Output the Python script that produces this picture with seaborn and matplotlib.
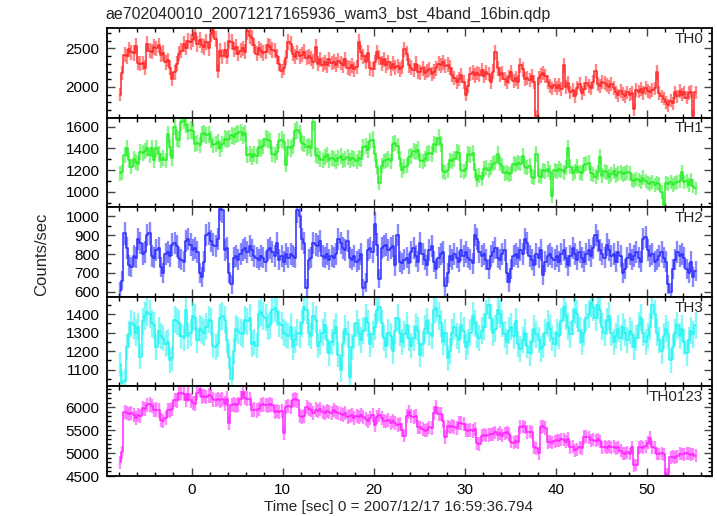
import numpy as np
import pandas as pd
import matplotlib
matplotlib.use("Agg")
import matplotlib.pyplot as plt
from matplotlib.ticker import MultipleLocator
import seaborn as sns

sns.set_theme(style="ticks")
plt.rcParams['font.family'] = ['Liberation Sans', 'DejaVu Sans']

# light curve: 0.25 s bins, first bin centre at -7.875 s
t_start = -7.875
bin_width = 0.25

th0 = [
    1900, 2180, 2420, 2400, 2490, 2450, 2440, 2530, 2310, 2300, 2310, 2250, 2560, 2470, 2460, 2520,
    2500, 2540, 2420, 2440, 2320, 2350, 2250, 2100, 2190, 2300, 2430, 2470, 2560, 2510, 2600, 2580,
    2620, 2700, 2560, 2610, 2540, 2520, 2580, 2500, 2690, 2740, 2620, 2210, 2470, 2400, 2480, 2390,
    2600, 2580, 2490, 2520, 2430, 2470, 2500, 2460, 2720, 2660, 2640, 2540, 2430, 2500, 2470, 2440,
    2460, 2540, 2520, 2480, 2470, 2400, 2300, 2210, 2250, 2380, 2580, 2560, 2430, 2390, 2450, 2400,
    2420, 2460, 2380, 2400, 2370, 2330, 2520, 2300, 2360, 2290, 2320, 2280, 2360, 2310, 2330, 2290,
    2340, 2310, 2280, 2360, 2250, 2240, 2280, 2230, 2260, 2590, 2450, 2400, 2330, 2440, 2240, 2230,
    2320, 2450, 2380, 2300, 2360, 2280, 2320, 2240, 2300, 2250, 2270, 2230, 2260, 2490, 2430, 2280,
    2250, 2220, 2300, 2200, 2190, 2240, 2180, 2210, 2230, 2170, 2200, 2240, 2300, 2280, 2320, 2270,
    2290, 2250, 2160, 2120, 2060, 2100, 2150, 2060, 1900, 2010, 2170, 2190, 2150, 2180, 2160, 2220,
    2140, 2190, 2170, 2060, 2200, 2450, 2240, 2160, 2180, 2100, 2060, 2130, 2190, 2080, 2110, 2070,
    2280, 2230, 2100, 2120, 2090, 2140, 2060, 1620, 2120, 2150, 2180, 2140, 2070, 2010, 1980, 2020,
    1990, 2020, 1970, 2280, 2000, 2050, 1930, 1960, 1880, 1990, 2040, 1920, 1970, 2050, 2010, 1980,
    2060, 2210, 2040, 2010, 2070, 2050, 2020, 2000, 2040, 1990, 1930, 1890, 1950, 1910, 1880, 1930,
    1900, 1920, 1710, 1960, 1940, 1970, 1920, 1990, 1950, 1930, 1960, 1980, 2190, 1920, 1880, 1850,
    1800, 1760, 1820, 1790, 1930, 1880, 1950, 1900, 1930, 1860, 1920, 1940, 1620, 1930,
]

th1 = [
    1170, 1180, 1340, 1400, 1290, 1230, 1300, 1275, 1260, 1370, 1360, 1380, 1400, 1340, 1400, 1290,
    1400, 1350, 1290, 1310, 1290, 1530, 1410, 1310, 1600, 1490, 1480, 1640, 1660, 1620, 1560, 1570,
    1560, 1440, 1450, 1430, 1530, 1540, 1520, 1530, 1480, 1430, 1440, 1460, 1400, 1440, 1490, 1480,
    1490, 1520, 1510, 1530, 1540, 1550, 1520, 1540, 1340, 1350, 1320, 1350, 1330, 1410, 1400, 1420,
    1490, 1480, 1470, 1350, 1340, 1370, 1470, 1480, 1460, 1250, 1410, 1400, 1420, 1560, 1570, 1540,
    1450, 1440, 1410, 1420, 1400, 1640, 1340, 1330, 1300, 1290, 1320, 1340, 1290, 1310, 1300, 1280,
    1310, 1330, 1290, 1300, 1320, 1290, 1310, 1300, 1280, 1310, 1300, 1410, 1420, 1390, 1470, 1480,
    1350, 1230, 1080, 1240, 1280, 1290, 1300, 1280, 1440, 1450, 1420, 1300, 1200, 1230, 1240, 1320,
    1330, 1380, 1370, 1390, 1290, 1280, 1300, 1350, 1360, 1350, 1440, 1430, 1500, 1440, 1190, 1180,
    1200, 1290, 1280, 1300, 1370, 1360, 1200, 1190, 1210, 1350, 1340, 1360, 1200, 1110, 1150, 1120,
    1210, 1220, 1200, 1220, 1260, 1270, 1350, 1260, 1240, 1170, 1180, 1160, 1170, 1260, 1250, 1270,
    1260, 1330, 1230, 1220, 1240, 1140, 1130, 1350, 1150, 1140, 1200, 1190, 1210, 1180, 960, 1200,
    1190, 1210, 1200, 1180, 1220, 1400, 1230, 1170, 1190, 1230, 1180, 1170, 1250, 1260, 1270, 1170,
    1160, 1140, 1180, 1320, 1150, 1190, 1180, 1140, 1160, 1190, 1150, 1170, 1180, 1160, 1170, 1180,
    1170, 1110, 1100, 1120, 1110, 1090, 1130, 1100, 1080, 1070, 1090, 1060, 1080, 1070, 1000, 880,
    1080, 1070, 1090, 1060, 1080, 1090, 1100, 1180, 1090, 1100, 1060, 1110, 1050, 1030,
]

th2 = [
    605, 660, 910, 830, 740, 730, 790, 780, 880, 860, 800, 810, 900, 910, 790, 780,
    820, 830, 730, 700, 800, 810, 790, 850, 860, 840, 780, 770, 760, 870, 880, 850,
    820, 830, 810, 700, 680, 760, 900, 910, 870, 850, 840, 880, 1040, 1030, 820, 830,
    700, 640, 780, 790, 770, 800, 820, 830, 810, 840, 820, 790, 780, 770, 790, 780,
    760, 820, 830, 810, 790, 860, 770, 790, 760, 800, 780, 800, 790, 780, 1030, 1000,
    880, 860, 620, 770, 780, 860, 850, 840, 870, 790, 780, 800, 770, 790, 780, 800,
    880, 860, 830, 820, 870, 780, 770, 790, 760, 770, 800, 620, 650, 820, 830, 810,
    960, 850, 670, 830, 840, 850, 820, 830, 840, 740, 900, 760, 750, 770, 780, 750,
    810, 830, 790, 760, 860, 800, 770, 740, 820, 840, 760, 720, 780, 800, 810, 630,
    700, 790, 770, 800, 780, 760, 820, 790, 810, 780, 770, 750, 900, 880, 810, 790,
    800, 770, 720, 790, 810, 830, 780, 770, 800, 820, 700, 650, 720, 790, 800, 780,
    820, 800, 880, 860, 790, 770, 740, 800, 780, 820, 690, 760, 790, 800, 780, 770,
    790, 760, 800, 820, 780, 740, 790, 830, 800, 770, 810, 780, 760, 800, 820, 790,
    830, 900, 870, 820, 800, 780, 850, 820, 790, 800, 760, 810, 790, 700, 720, 780,
    800, 770, 790, 810, 780, 760, 880, 890, 820, 790, 800, 760, 770, 790, 810, 780,
    760, 640, 600, 720, 770, 810, 790, 800, 780, 720, 700, 760, 680, 710,
]

th3 = [
    1130, 1030, 1040, 1220, 1290, 1350, 1340, 1300, 1330, 1170, 1360, 1390, 1410, 1400, 1350, 1340,
    1220, 1310, 1280, 1270, 1240, 1250, 1150, 1160, 1370, 1360, 1350, 1280, 1270, 1420, 1280, 1300,
    1390, 1380, 1260, 1320, 1310, 1300, 1330, 1370, 1360, 1230, 1220, 1240, 1380, 1390, 1370, 1260,
    1170, 1050, 1200, 1320, 1310, 1300, 1290, 1370, 1360, 1380, 1240, 1250, 1230, 1400, 1410, 1390,
    1380, 1330, 1340, 1420, 1430, 1410, 1350, 1340, 1300, 1290, 1280, 1330, 1220, 1260, 1300, 1290,
    1350, 1440, 1420, 1300, 1280, 1390, 1370, 1230, 1250, 1300, 1340, 1260, 1190, 1250, 1300, 1330,
    1180, 1100, 1240, 1320, 1290, 1060, 1220, 1280, 1350, 1300, 1260, 1310, 1380, 1350, 1240, 1290,
    1330, 1420, 1440, 1350, 1270, 1230, 1300, 1280, 1200, 1310, 1380, 1300, 1250, 1290, 1340, 1270,
    1230, 1270, 1330, 1310, 1180, 1240, 1320, 1360, 1300, 1280, 1420, 1430, 1390, 1350, 1250, 1300,
    1160, 1200, 1300, 1330, 1280, 1260, 1340, 1310, 1220, 1250, 1300, 1390, 1350, 1290, 1270, 1310,
    1330, 1400, 1450, 1380, 1300, 1320, 1420, 1400, 1350, 1290, 1250, 1310, 1330, 1280, 1360, 1240,
    1210, 1260, 1300, 1230, 1190, 1250, 1320, 1290, 1260, 1210, 1230, 1300, 1350, 1320, 1270, 1240,
    1300, 1280, 1360, 1440, 1390, 1330, 1290, 1360, 1420, 1400, 1310, 1250, 1300, 1380, 1400, 1460,
    1440, 1380, 1450, 1420, 1330, 1300, 1360, 1390, 1300, 1250, 1280, 1320, 1270, 1330, 1300, 1260,
    1310, 1290, 1220, 1270, 1340, 1380, 1300, 1250, 1280, 1330, 1450, 1400, 1300, 1260, 1200, 1280,
    1320, 1290, 1150, 1220, 1300, 1340, 1280, 1320, 1250, 1190, 1260, 1310, 1290, 1340,
]

th0123 = [
    4800, 5020, 5900, 5870, 5850, 5880, 5830, 5760, 5840, 5810, 5980, 5960, 6050, 6060, 6030, 5940,
    5950, 5930, 5720, 5700, 5760, 5940, 5930, 5960, 6160, 6150, 6300, 6310, 6290, 6160, 6280, 6150,
    6090, 6080, 6310, 6390, 6230, 6250, 6220, 6260, 6240, 6170, 6160, 6180, 6150, 6170, 6080, 6190,
    5650, 6050, 6060, 6040, 6060, 6190, 6330, 6200, 6190, 6180, 5940, 5950, 5930, 5960, 6050, 6060,
    6050, 6040, 6060, 6050, 5900, 5910, 5890, 5920, 5430, 6010, 6020, 6000, 6160, 6170, 6150, 5800,
    5790, 5810, 6000, 5960, 5940, 5880, 5950, 5920, 5960, 5900, 5870, 5910, 5890, 5880, 5940, 5900,
    5880, 5850, 5820, 5870, 5790, 5810, 5830, 5770, 5800, 5780, 5820, 5790, 5740, 5700, 5760, 5830,
    5620, 5780, 5820, 5760, 5700, 5690, 5720, 5650, 5700, 5660, 5620, 5640, 5500, 5380, 5800, 5900,
    5800, 5790, 5810, 5570, 5560, 5520, 5490, 5500, 5560, 5540, 5880, 6000, 5860, 5850, 5700, 5350,
    5580, 5560, 5590, 5570, 5540, 5650, 5660, 5640, 5500, 5490, 5510, 5480, 5520, 5210, 5200, 5380,
    5400, 5380, 5390, 5410, 5420, 5450, 5400, 5440, 5380, 5430, 5450, 5420, 5250, 5230, 5260, 5240,
    5570, 5580, 5560, 5460, 5470, 5450, 5130, 5100, 5000, 5570, 5580, 5550, 5240, 5250, 5230, 5260,
    5280, 5270, 5300, 5290, 5250, 5310, 5130, 5140, 5060, 5080, 5130, 5110, 5350, 5360, 5340, 5280,
    5290, 5270, 5300, 5260, 5130, 5140, 5120, 5150, 5130, 5140, 5100, 5130, 5050, 5000, 4990, 5020,
    4980, 5130, 4730, 4740, 5130, 5140, 5120, 5150, 5230, 5330, 5130, 5120, 4990, 4980, 5000, 4970,
    4550, 4540, 4910, 4920, 4900, 4930, 4990, 4980, 4970, 5000, 4990, 4960, 4980, 4940,
]

bands = ["TH0", "TH1", "TH2", "TH3", "TH0123"]
rates = [th0, th1, th2, th3, th0123]

title = "ae702040010_20071217165936_wam3_bst_4band_16bin.qdp"
xlabel = "Time [sec] 0 = 2007/12/17 16:59:36.794"
ylabel = "Counts/sec"

# per-panel styling
colors = ["#ff2424", "#24f024", "#2b2bff", "#24f4f4", "#ff24ff"]
ylims = [(1602, 2765), (857, 1685), (574, 1047), (1009, 1493), (4500, 6454)]
major_step = [500, 200, 100, 100, 500]
minor_step = [100, 100, 50, 50, 100]

frames = []
for band, r in zip(bands, rates):
    r = np.asarray(r, dtype=float)
    t = t_start + bin_width * np.arange(len(r))
    frames.append(pd.DataFrame({"time": t, "rate": r,
                                "err": np.sqrt(r / bin_width), "band": band}))
df = pd.concat(frames, ignore_index=True)

fig, axes = plt.subplots(5, 1, figsize=(7.17, 5.16), dpi=100, sharex=True)
fig.subplots_adjust(left=0.1488, right=0.9926, top=0.9457, bottom=0.0775, hspace=0)

for i, (ax, band) in enumerate(zip(axes, bands)):
    d = df[df["band"] == band]
    ax.errorbar(d["time"], d["rate"], yerr=d["err"], fmt="none",
                ecolor=colors[i], elinewidth=1.7, alpha=0.55, capsize=0)
    sns.lineplot(data=d, x="time", y="rate", ax=ax, color=colors[i],
                 drawstyle="steps-mid", linewidth=1.1, estimator=None)
    ax.set_ylim(*ylims[i])
    ax.set_xlim(-9.34, 57.14)
    ax.xaxis.set_major_locator(MultipleLocator(10))
    ax.xaxis.set_minor_locator(MultipleLocator(2))
    ax.yaxis.set_major_locator(MultipleLocator(major_step[i]))
    ax.yaxis.set_minor_locator(MultipleLocator(minor_step[i]))
    ax.tick_params(which="both", direction="in", top=True, right=True,
                   labelbottom=(i == 4), labelsize=11, colors="black")
    ax.tick_params(which="major", length=6, width=1.0, color="#444444", pad=5)
    ax.tick_params(which="minor", length=3, width=1.0, color="black")
    for s in ax.spines.values():
        s.set_linewidth(1.3)
        s.set_color("black")
    ax.set_xlabel("")
    ax.set_ylabel("")
    ax.text(0.986, 0.88, band, transform=ax.transAxes, ha="right",
            va="center", fontsize=11)

fig.text(105 / 717, 1 - 14 / 516, title, ha="left", va="center", fontsize=11.5)
fig.text(399 / 717, 1 - 507 / 516, xlabel, ha="center", va="center", fontsize=11)
fig.text(42 / 717, 1 - 254 / 516, ylabel, ha="center", va="center",
         rotation=90, fontsize=12)

fig.savefig("out.png", dpi=100)
